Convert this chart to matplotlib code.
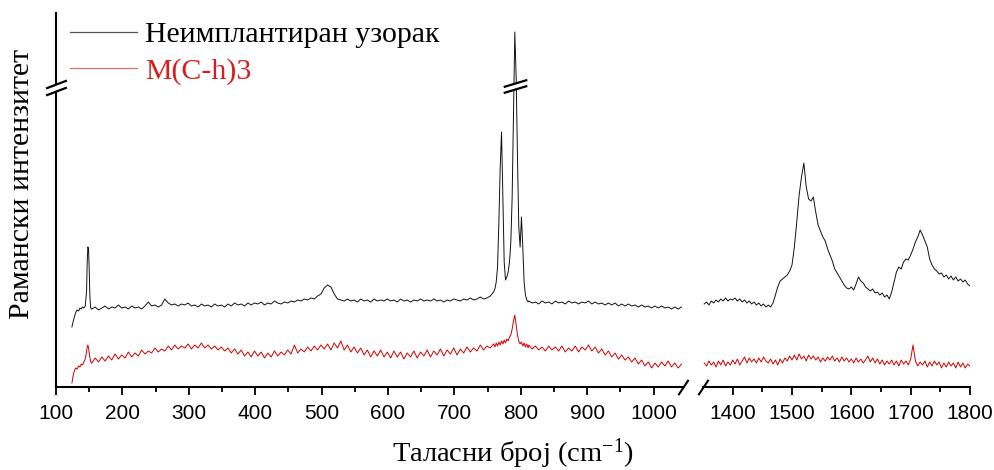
import numpy as np
import matplotlib
matplotlib.use("Agg")
import matplotlib.pyplot as plt
from matplotlib.lines import Line2D
from matplotlib.ticker import MultipleLocator, FixedLocator
import matplotlib.transforms as mtransforms

plt.rcParams["font.family"] = ["Liberation Sans", "DejaVu Sans"]
plt.rcParams["mathtext.fontset"] = "custom"
plt.rcParams["mathtext.rm"] = "Liberation Serif"
plt.rcParams["mathtext.it"] = "Liberation Serif:italic"

# ---- data: Raman intensity (a.u.) vs wavenumber (cm^-1) ----
wn_left = np.concatenate([
    np.arange(124, 146, 2),
    np.arange(146, 154, 1),
    np.arange(154, 760, 5),
    np.arange(761, 812, 2),
    np.arange(812, 1045, 5),
])
wn_right = np.arange(1352, 1801, 4)

black_left = [
    60, 66, 71, 75, 77, 76, 79, 78, 80, 79, 81,
    95, 125, 140, 138, 118, 92, 80, 78,
    78, 80, 77, 79, 81, 78, 80, 79, 82, 79,
    80, 78, 81, 79, 80, 78, 81, 85, 81, 82,
    80, 82, 88, 84, 82, 83, 81, 83, 82, 84,
    81, 82, 80, 83, 81, 82, 80, 83, 81, 82,
    80, 83, 81, 84, 82, 83, 81, 84, 82, 84,
    83, 85, 82, 84, 83, 86, 84, 83, 85, 84,
    86, 85, 87, 86, 88, 87, 89, 88, 91, 93,
    99, 102, 100, 93, 88, 87, 86, 88, 86, 87,
    85, 88, 86, 87, 85, 88, 86, 87, 86, 88,
    86, 87, 85, 88, 86, 87, 85, 87, 86, 88,
    86, 87, 86, 88, 86, 87, 85, 87, 86, 88,
    87, 86, 88, 87, 89, 87, 88, 90, 88, 89,
    91, 95,
    98, 105, 120, 165, 220, 255, 190, 125, 107, 110,
    115, 125, 145, 190, 270, 355, 310, 230, 160, 140,
    170, 140, 105, 92, 87, 85,
    86, 84, 85, 83, 86, 84, 85, 83, 86, 84,
    85, 83, 86, 84, 85, 83, 85, 84, 86, 83,
    85, 83, 84, 82, 84, 82, 84, 81, 83, 81,
    83, 81, 82, 80, 82, 80, 81, 79, 81, 79,
    81, 79, 80, 78, 80, 78, 80,
]

red_left = [
    4, 12, 17, 19, 18, 21, 20, 23, 22, 25, 28,
    35, 40, 42, 39, 34, 30, 26, 24,
    24, 29, 25, 30, 26, 31, 27, 33, 28, 32,
    29, 35, 30, 34, 31, 37, 33, 36, 34, 39,
    35, 38, 36, 41, 37, 42, 38, 41, 39, 43,
    38, 42, 39, 44, 39, 42, 38, 41, 37, 40,
    36, 39, 34, 38, 33, 37, 31, 35, 30, 36,
    31, 35, 29, 34, 30, 36, 31, 35, 32, 37,
    33, 42, 34, 38, 35, 40, 36, 41, 37, 42,
    38, 43, 37, 44, 39, 46, 37, 42, 35, 40,
    34, 39, 32, 37, 30, 36, 31, 37, 30, 35,
    29, 36, 30, 35, 28, 34, 30, 36, 29, 35,
    31, 37, 30, 36, 32, 38, 31, 37, 33, 39,
    32, 38, 34, 40, 35, 39, 36, 42, 37, 41,
    39, 43,
    40, 44, 41, 45, 42, 46, 43, 47, 44, 48,
    46, 50, 52, 58, 66, 72, 62, 52, 46, 43,
    45, 41, 44, 40, 43, 39,
    42, 38, 41, 37, 40, 36, 41, 37, 40, 36,
    41, 35, 39, 36, 41, 35, 40, 37, 42, 36,
    40, 34, 38, 32, 36, 30, 34, 28, 32, 27,
    30, 25, 29, 23, 27, 21, 25, 19, 24, 20,
    25, 21, 26, 20, 24, 19, 23,
]

black_right = [
    83, 85, 82, 86, 84, 87, 85, 88, 86, 89,
    86, 88, 87, 89, 86, 88, 85, 87, 84, 86,
    83, 85, 82, 84, 81, 83, 80, 82, 80, 84,
    92, 100, 106, 108, 110, 112, 116, 122, 140, 165,
    192, 210, 224, 200, 188, 186, 190, 175, 162, 156,
    150, 146, 138, 132, 126, 118, 114, 110, 106, 102,
    99, 98, 100, 97, 103, 110, 106, 104, 100, 98,
    96, 98, 94, 95, 92, 94, 90, 92, 88, 95,
    105, 115, 120, 118, 125, 128, 127, 132, 138, 145,
    150, 157, 152, 146, 140, 128, 122, 118, 116, 113,
    114, 110, 112, 108, 111, 107, 110, 106, 108, 105,
    107, 103, 101,
]

red_right = [
    24, 21, 26, 22, 25, 20, 26, 22, 27, 21,
    25, 22, 27, 23, 28, 22, 26, 30, 24, 29,
    25, 28, 24, 29, 25, 30, 26, 24, 28, 23,
    27, 22, 28, 24, 29, 26, 31, 27, 32, 27,
    33, 28, 31, 26, 32, 28, 31, 27, 30, 25,
    29, 26, 30, 27, 31, 26, 29, 25, 30, 26,
    29, 25, 28, 24, 29, 25, 28, 24, 27, 31,
    25, 29, 24, 28, 23, 27, 22, 26, 23, 27,
    22, 26, 21, 27, 23, 26, 22, 28, 42, 26,
    21, 25, 22, 26, 20, 25, 21, 26, 22, 25,
    19, 24, 20, 25, 21, 24, 19, 25, 20, 24,
    19, 23, 21,
]

series_labels = ["Неимплантиран узорак", "M(C-h)3"]
xlabel = "Таласни број (cm$^{\\mathregular{-1}}$)"
ylabel = "Рамански интензитет"

BLACK = "#111111"
RED = "#d00000"
RED_TEXT = "#d42020"
SERIF = ["Liberation Serif", "DejaVu Serif"]

W, H = 995, 470
fig = plt.figure(figsize=(W / 100, H / 100), dpi=100)

# two panels of a broken x axis
ax1 = fig.add_axes([56 / W, 83 / H, 627 / W, 374 / H])
ax2 = fig.add_axes([703 / W, 83 / H, 267 / W, 374 / H])

ax1.plot(wn_left, black_left, color=BLACK, lw=0.7)
ax1.plot(wn_left, red_left, color=RED, lw=0.7)
ax2.plot(wn_right, black_right, color=BLACK, lw=0.7)
ax2.plot(wn_right, red_right, color=RED, lw=0.7)

ax1.set_xlim(100, 1044.3)
ax2.set_xlim(1350, 1800)
for ax in (ax1, ax2):
    ax.set_ylim(0, 374)
    ax.set_yticks([])
    ax.spines["top"].set_visible(False)
    ax.spines["right"].set_visible(False)
    ax.spines["bottom"].set_linewidth(1.5)
    ax.spines["left"].set_linewidth(1.5)
    ax.patch.set_alpha(0)
    ax.tick_params(axis="x", which="major", direction="out", length=6,
                   width=1.3, labelsize=15, pad=6)
    ax.tick_params(axis="x", which="minor", direction="out", length=3.5,
                   width=1.3)
ax2.spines["left"].set_visible(False)

ax1.xaxis.set_major_locator(MultipleLocator(100))
ax1.xaxis.set_minor_locator(FixedLocator(np.arange(150, 1000, 100)))
ax2.xaxis.set_major_locator(MultipleLocator(100))
ax2.xaxis.set_minor_locator(FixedLocator(np.arange(1450, 1800, 100)))

# x-axis break marks
xslash = [(-1, -1.5), (1, 1.5)]
ax1.plot([1], [0], transform=ax1.transAxes, marker=xslash, markersize=11,
         color="black", mew=1.5, clip_on=False, linestyle="none")
ax2.plot([0], [0], transform=ax2.transAxes, marker=xslash, markersize=11,
         color="black", mew=1.5, clip_on=False, linestyle="none")

# y-axis break: on the left spine and across the tall 790 cm^-1 peak
y_break = 300
gap = [(-1, -0.6), (1, 0.0), (1, 0.55), (-1, -0.05), (-1, -0.6)]
yslash = [(-1, -0.38), (1, 0.38)]
spine_tr = mtransforms.blended_transform_factory(ax1.transAxes, ax1.transData)
ax1.plot([0], [y_break], transform=spine_tr, marker=gap, markersize=15,
         mfc="white", mec="none", clip_on=False, linestyle="none", zorder=5)
for dy in (-3.5, 3.5):
    ax1.plot([0], [y_break + dy], transform=spine_tr, marker=yslash,
             markersize=15, color="black", mew=1.6, clip_on=False,
             linestyle="none", zorder=6)

peak_wn = wn_left[int(np.argmax(black_left))]
pslash = [(-1, -0.3), (1, 0.3)]
pgap = [(-1, -0.55), (1, 0.05), (1, 0.55), (-1, -0.05), (-1, -0.55)]
ax1.plot([peak_wn], [y_break + 1], marker=pgap, markersize=17,
         mfc="white", mec="none", linestyle="none", zorder=5)
for dy in (-3, 3):
    ax1.plot([peak_wn], [y_break + 1 + dy], marker=pslash, markersize=17,
             color="black", mew=1.6, linestyle="none", zorder=6)

# legend drawn as lines with text
for (ly, ty, col, lcol, lab) in [
    (32, 41.7, "black", "#555555", series_labels[0]),
    (68, 78.3, RED_TEXT, "#e07070", series_labels[1]),
]:
    fig.add_artist(Line2D([70 / W, 137 / W], [1 - ly / H, 1 - ly / H],
                          transform=fig.transFigure, color=lcol, lw=0.9))
    fig.text(145 / W, 1 - ty / H, lab, color=col, fontsize=21.5,
             family=SERIF, va="baseline", ha="left")

# axis titles
fig.text(513 / W, 1 - 462 / H, xlabel, fontsize=20.5, family=SERIF,
         ha="center", va="baseline")
fig.text(22 / W, 1 - 184 / H, ylabel, fontsize=21.5, family=SERIF,
         ha="center", va="center", rotation=90)

fig.savefig("out.png", dpi=100)
